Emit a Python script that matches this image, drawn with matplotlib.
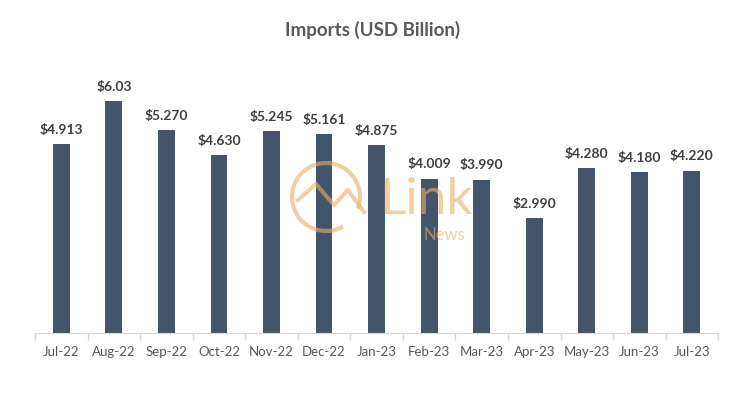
import matplotlib.pyplot as plt
from matplotlib.patches import Arc

months = ["Jul-22", "Aug-22", "Sep-22", "Oct-22", "Nov-22", "Dec-22", "Jan-23",
          "Feb-23", "Mar-23", "Apr-23", "May-23", "Jun-23", "Jul-23"]
imports = [4.913, 6.03, 5.270, 4.630, 5.245, 5.161, 4.875,
           4.009, 3.990, 2.990, 4.280, 4.180, 4.220]
labels = ["$4.913", "$6.03", "$5.270", "$4.630", "$5.245", "$5.161", "$4.875",
          "$4.009", "$3.990", "$2.990", "$4.280", "$4.180", "$4.220"]

BAR_COLOR = "#44546A"
TEXT_COLOR = "#595959"
MARK_COLOR = "#E8B06A"

plt.rcParams['font.family'] = ['Lato', 'DejaVu Sans']

fig = plt.figure(figsize=(7.45, 3.98), dpi=100)
ax = fig.add_axes([0.047, 0.163, 0.917, 0.677])

x = list(range(len(months)))
bars = ax.bar(x, imports, width=0.32, color=BAR_COLOR, zorder=2)
for rect, lab in zip(bars, labels):
    ax.annotate(lab, (rect.get_x() + rect.get_width() / 2, rect.get_height()),
                xytext=(0, 6), textcoords="offset points", ha="center", va="bottom",
                fontsize=10, fontweight="bold", color="#404040")

ax.set_xlim(-0.5, len(months) - 0.5)
ax.set_ylim(0, 7)
ax.set_xticks(x)
ax.set_xticklabels(months, fontsize=9.5, color=TEXT_COLOR)
ax.tick_params(axis="x", length=0, pad=9)
# category separators as minor ticks
ax.set_xticks([i - 0.5 for i in range(len(months) + 1)], minor=True)
ax.tick_params(axis="x", which="minor", length=5, color="#D9D9D9", width=1)
ax.set_yticks([])
for side in ["top", "right", "left"]:
    ax.spines[side].set_visible(False)
ax.spines["bottom"].set_color("#D9D9D9")

fig.text(0.5, 0.925, "Imports (USD Billion)", ha="center", va="center",
         fontsize=13.5, fontweight="bold", color=TEXT_COLOR)

# faint watermark (logo ring + mountains + text)
fig.add_artist(Arc((3.26, 2.01), 0.68, 0.68, theta1=-20, theta2=300,
                   transform=fig.dpi_scale_trans, color=MARK_COLOR, lw=3, alpha=0.6, zorder=5))
fig.add_artist(plt.Line2D([2.98, 3.16, 3.34, 3.48, 3.64], [1.98, 2.14, 1.93, 2.08, 1.86],
                          transform=fig.dpi_scale_trans, color=MARK_COLOR, lw=3, alpha=0.6, zorder=5))
fig.text(0.572, 0.497, "Link", ha="center", va="center", fontsize=37,
         color=MARK_COLOR, alpha=0.6, zorder=5)
fig.text(0.597, 0.41, "News", ha="center", va="center", fontsize=12,
         color=MARK_COLOR, alpha=0.6, zorder=5)

fig.savefig("out.png", dpi=100)
